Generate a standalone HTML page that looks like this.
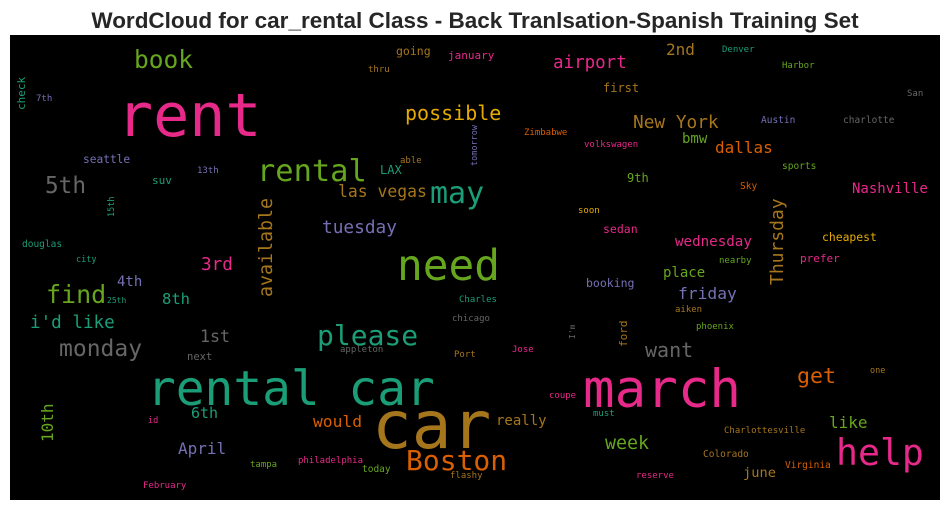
<!DOCTYPE html>
<html><head><meta charset="utf-8"><style>
html,body{margin:0;padding:0;background:#fff;width:950px;height:511px;overflow:hidden}
svg{display:block}
</style></head><body>
<svg id="cloud" width="950" height="511" xmlns="http://www.w3.org/2000/svg">
<text x="475" y="28" text-anchor="middle" font-family="Liberation Sans, Arial, sans-serif" font-weight="bold" font-size="22.5" fill="#262626">WordCloud for car_rental Class - Back Tranlsation-Spanish Training Set</text>
<rect x="10" y="35" width="930" height="465" fill="#000"/>
<g id="words" font-family="DejaVu Sans Mono, Liberation Mono, monospace"></g>
</svg>
<script>
const words=["rent","book","check","7th","going","thru","january","possible","seattle","5th","13th","suv","rental","LAX","able","las vegas","may","15th","tuesday","available","douglas","city","3rd","need","4th","find","25th","8th","i'd like","1st","please","monday","next","appleton","rental car","car","10th","6th","id","would","April","Boston","tampa","philadelphia","today","flashy","February","Charles","chicago","Port",
"airport","2nd","Denver","Harbor","first","San","New York","Austin","charlotte","Zimbabwe","tomorrow","volkswagen","bmw","dallas","sports","9th","Sky","Nashville","Thursday","soon","sedan","wednesday","cheapest","nearby","prefer",
"place","booking","friday","aiken","phoenix","I'm","ford","want","Jose","march","get","one","coupe","must","really","like","Charlottesville","help","week","Colorado","june","Virginia","reserve"];
const wx=[117,134,25,36,396,368,448,405,83,45,197,152,257,380,400,338,430,114,322,272,22,76,201,397,117,46,107,162,30,200,317,59,187,340,147,372,53,191,148,313,178,406,250,298,362,450,143,459,452,454,
553,666,722,782,603,907,633,761,843,524,477,584,682,715,782,627,740,852,783,578,603,675,822,719,800,
663,586,678,675,696,575,627,645,512,583,797,870,549,593,496,829,724,836,605,703,743,785,636];
const wy=[136,68,110,101,55,72,59,120,163,193,173,184,181,174,163,197,203,217,233,297,247,262,270,280,286,303,303,304,328,342,345,356,360,352,405,448,442,418,423,427,454,470,467,463,472,478,488,302,321,357,
68,55,52,68,92,96,128,123,123,135,166,147,143,153,169,182,189,193,285,213,233,246,241,263,262,
277,287,299,312,329,339,347,357,352,407,383,373,398,416,425,428,433,465,449,457,477,468,478];
const wsize=[60,24.5,11,9,11.5,9,11,20,11.2,22.7,9,11,30.4,12,9,16.4,30,8.5,17.8,18.3,9.5,8.5,17.7,42.8,14,25,8,15.5,17.6,16.6,28,23,10.5,9,47.8,66,16,15,8.5,16.3,16,28,9,9,9.5,9,9,9,9,9,
17.5,16,9,9,12,9,17.8,9.5,9.5,9,8.5,9,14,16,9.5,12,9.5,14,18,9,11.5,14.2,11.4,9,11,
14,11.5,16.3,9,9,8,11,20,9,52.5,21.6,8.5,9,9,14,16,9,36.5,18.3,9.5,13.7,9.5,9];
const wcolor=["#e7298a","#66a61e","#1b9e77","#7570b3","#a6761d","#a6761d","#e7298a","#e6ab02","#7570b3","#666666","#7570b3","#1b9e77","#66a61e","#1b9e77","#a6761d","#a6761d","#1b9e77","#1b9e77","#7570b3","#a6761d","#1b9e77","#1b9e77","#e7298a","#66a61e","#7570b3","#66a61e","#1b9e77","#1b9e77","#1b9e77","#666666","#1b9e77","#666666","#666666","#666666","#1b9e77","#a6761d","#66a61e","#1b9e77","#e7298a","#d95f02","#7570b3","#d95f02","#66a61e","#e7298a","#66a61e","#a6761d","#e7298a","#1b9e77","#666666","#a6761d",
"#e7298a","#a6761d","#1b9e77","#66a61e","#a6761d","#666666","#a6761d","#7570b3","#666666","#d95f02","#7570b3","#e7298a","#66a61e","#d95f02","#66a61e","#66a61e","#d95f02","#e7298a","#a6761d","#e6ab02","#e7298a","#e7298a","#e6ab02","#66a61e","#e7298a",
"#66a61e","#7570b3","#7570b3","#a6761d","#66a61e","#666666","#a6761d","#666666","#e7298a","#e7298a","#d95f02","#a6761d","#e7298a","#1b9e77","#a6761d","#66a61e","#a6761d","#e7298a","#66a61e","#a6761d","#a6761d","#d95f02","#e7298a"];
const wvertical=["check","15th","available","10th","tomorrow","Thursday","I'm","ford"];
const g=document.getElementById('words');
const NS='http://www.w3.org/2000/svg';
words.forEach((w,i)=>{
  const t=document.createElementNS(NS,'text');
  
  
  t.setAttribute('x',wx[i]);
  t.setAttribute('y',wy[i]);
  t.setAttribute('font-size',wsize[i]);
  t.setAttribute('fill',wcolor[i]);
  if(wvertical.includes(w)) t.setAttribute('transform','rotate(-90 '+wx[i]+' '+wy[i]+')');
  t.textContent=w;
  g.appendChild(t);
});
</script>
</body></html>
